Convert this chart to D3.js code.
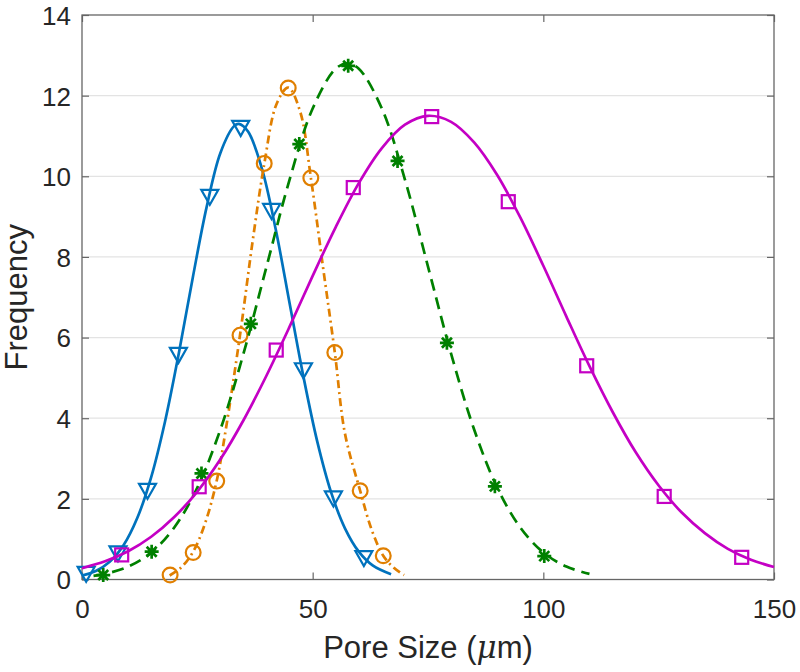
<!DOCTYPE html>
<html>
<head>
<meta charset="utf-8">
<script src="https://cdn.jsdelivr.net/npm/d3@7"></script>
<style>
  html, body { margin: 0; padding: 0; background: #fff; }
  svg { display: block; }
</style>
</head>
<body>
<svg id="chart" width="800" height="672"></svg>
<script>
// ---------- Data ----------
const xTicks = [0, 50, 100, 150];
const yTicks = [0, 2, 4, 6, 8, 10, 12, 14];
const xLabel = "Pore Size (";
const xLabelMu = "μ";
const xLabelEnd = "m)";
const yLabel = "Frequency";

// Blue (down triangles, solid)
const blueMarkX = [0.9, 7.8, 14.2, 20.9, 27.7, 34.4, 41.1, 48.0, 54.5, 61.1];
const blueMarkY = [0.14, 0.65, 2.2, 5.57, 9.49, 11.2, 9.14, 5.19, 2.01, 0.53];
const blueCurveX = [0, 3, 6, 9, 12, 15, 18, 21, 24, 27, 30, 33, 34, 36, 39, 42, 45, 48, 51, 54, 57, 60, 63, 67];
const blueCurveY = [0.1, 0.21, 0.44, 0.85, 1.53, 2.54, 3.92, 5.62, 7.48, 9.23, 10.58, 11.25, 11.3, 11.11, 10.19, 8.68, 6.85, 5.03, 3.42, 2.16, 1.27, 0.69, 0.35, 0.13];

// Orange (circles, dash-dot)
const orangeMarkX = [19.1, 24.1, 29.2, 34.25, 39.5, 44.7, 49.6, 54.8, 60.3, 65.3];
const orangeMarkY = [0.11, 0.67, 2.44, 6.06, 10.32, 12.19, 9.96, 5.63, 2.2, 0.59];
const orangeCurveX = [19, 21.5, 24.1, 26.7, 29.2, 31, 34.25, 37, 39.5, 42.2, 44.7, 47.3, 49.6, 52.3, 54.8, 57, 60.3, 62.8, 65.3, 67.5, 69.8];
const orangeCurveY = [0.1, 0.3, 0.69, 1.4, 2.45, 3.6, 6.06, 8.4, 10.3, 11.8, 12.2, 11.6, 9.97, 7.7, 5.63, 3.62, 2.2, 1.23, 0.59, 0.3, 0.11];

// Green (asterisks, dashed)
const greenMarkX = [4.6, 15.1, 25.9, 36.6, 47.1, 57.7, 68.4, 79.1, 89.5, 100.2];
const greenMarkY = [0.11, 0.69, 2.63, 6.34, 10.8, 12.74, 10.38, 5.87, 2.31, 0.58];
const greenCurveX = [2.5, 5, 10, 15, 20, 25, 30, 35, 40, 45, 50, 55, 57.5, 60, 65, 70, 75, 80, 85, 90, 95, 100, 105, 110];
const greenCurveY = [0.09, 0.14, 0.32, 0.67, 1.29, 2.28, 3.72, 5.6, 7.76, 9.92, 11.68, 12.67, 12.8, 12.67, 11.68, 9.92, 7.76, 5.6, 3.72, 2.28, 1.29, 0.67, 0.32, 0.14];

// Magenta (squares, solid)
const magentaMarkX = [8.6, 25.4, 42.1, 58.8, 75.8, 92.4, 109.4, 126.2, 143.0];
const magentaMarkY = [0.61, 2.3, 5.69, 9.72, 11.48, 9.37, 5.3, 2.06, 0.55];
const magentaCurveX = [0, 5, 10, 15, 20, 25, 30, 35, 40, 45, 50, 55, 60, 65, 70, 75, 80, 85, 90, 95, 100, 105, 110, 115, 120, 125, 130, 135, 140, 145, 150];
const magentaCurveY = [0.28, 0.45, 0.7, 1.06, 1.55, 2.18, 2.98, 3.95, 5.06, 6.27, 7.53, 8.74, 9.83, 10.7, 11.28, 11.5, 11.35, 10.84, 10.03, 8.98, 7.78, 6.52, 5.29, 4.16, 3.16, 2.33, 1.66, 1.15, 0.76, 0.49, 0.31];

// ---------- Layout ----------
const L = 82, R = 774, T = 15, B = 579.5;
const svg = d3.select("#chart");
const x = d3.scaleLinear().domain([0, 150]).range([L, R]);
const y = d3.scaleLinear().domain([0, 14]).range([B, T]);
const font = "'Liberation Sans', Arial, Helvetica, sans-serif";
const textColor = "#262626";
const axisColor = "#666666";

// Gridlines
svg.append("g").selectAll("line")
  .data(yTicks.filter(d => d > 0 && d < 14))
  .join("line")
  .attr("x1", L).attr("x2", R)
  .attr("y1", d => y(d)).attr("y2", d => y(d))
  .attr("stroke", "#e3e3e3").attr("stroke-width", 1.2);

// Axes
function styleAxis(g, showText) {
  g.select(".domain").remove();
  g.selectAll(".tick line").attr("stroke", axisColor).attr("stroke-width", 1.2);
  g.selectAll(".tick text")
    .attr("fill", textColor)
    .style("font-family", font)
    .style("font-size", "26px")
    .style("display", showText ? null : "none");
}
svg.append("g").attr("transform", `translate(0,${B})`)
  .call(d3.axisBottom(x).tickValues(xTicks).tickSize(-7).tickPadding(20).tickFormat(d3.format("d")))
  .call(g => styleAxis(g, true));
svg.append("g").attr("transform", `translate(0,${T})`)
  .call(d3.axisTop(x).tickValues(xTicks).tickSize(-7).tickFormat(""))
  .call(g => styleAxis(g, false));
svg.append("g").attr("transform", `translate(${L},0)`)
  .call(d3.axisLeft(y).tickValues(yTicks).tickSize(-7).tickPadding(11).tickFormat(d3.format("d")))
  .call(g => styleAxis(g, true))
  .call(g => g.selectAll(".tick text").attr("dy", "0.36em"));
svg.append("g").attr("transform", `translate(${R},0)`)
  .call(d3.axisRight(y).tickValues(yTicks).tickSize(-7).tickFormat(""))
  .call(g => styleAxis(g, false));

// Box
svg.append("rect")
  .attr("x", L).attr("y", T).attr("width", R - L).attr("height", B - T)
  .attr("fill", "none").attr("stroke", axisColor).attr("stroke-width", 1.3);

// Axis labels
const xl = svg.append("text")
  .attr("x", (L + R) / 2).attr("y", 658)
  .attr("text-anchor", "middle")
  .attr("fill", textColor)
  .style("font-family", font).style("font-size", "31px");
xl.append("tspan").text(xLabel);
xl.append("tspan").style("font-style", "italic").style("font-family", "'DejaVu Serif', serif").text(xLabelMu);
xl.append("tspan").text(xLabelEnd);

svg.append("text")
  .attr("transform", `translate(27,${(T + B) / 2}) rotate(-90)`)
  .attr("text-anchor", "middle")
  .attr("fill", textColor)
  .style("font-family", font).style("font-size", "31px")
  .text(yLabel);

// ---------- Series ----------
const line = d3.line().x(d => x(d[0])).y(d => y(d[1])).curve(d3.curveCatmullRom.alpha(0.5));
const plotG = svg.append("g");

function drawSeries(cx, cy, mx, my, color, dash, marker) {
  plotG.append("path")
    .datum(d3.zip(cx, cy))
    .attr("d", line)
    .attr("fill", "none")
    .attr("stroke", color)
    .attr("stroke-width", 2.7)
    .attr("stroke-dasharray", dash);
  const g = plotG.append("g");
  const pts = d3.zip(mx, my);
  pts.forEach(p => {
    const px = x(p[0]), py = y(p[1]);
    if (marker === "tri") {
      g.append("path")
        .attr("d", `M${px - 8.5},${py - 7}L${px + 8.5},${py - 7}L${px},${py + 8}Z`)
        .attr("fill", "none").attr("stroke", color).attr("stroke-width", 2.2);
    } else if (marker === "circle") {
      g.append("circle").attr("cx", px).attr("cy", py).attr("r", 7.4)
        .attr("fill", "none").attr("stroke", color).attr("stroke-width", 2.2);
    } else if (marker === "square") {
      g.append("rect").attr("x", px - 6.5).attr("y", py - 6.5).attr("width", 13).attr("height", 13)
        .attr("fill", "none").attr("stroke", color).attr("stroke-width", 2.2);
    } else if (marker === "star") {
      const r = 7, rd = 5;
      g.append("path")
        .attr("d", `M${px - r},${py}L${px + r},${py}M${px},${py - r}L${px},${py + r}` +
                   `M${px - rd},${py - rd}L${px + rd},${py + rd}M${px - rd},${py + rd}L${px + rd},${py - rd}`)
        .attr("stroke", color).attr("stroke-width", 2.7).attr("fill", "none");
    }
  });
}

drawSeries(blueCurveX, blueCurveY, blueMarkX, blueMarkY, "#0072BD", null, "tri");
drawSeries(orangeCurveX, orangeCurveY, orangeMarkX, orangeMarkY, "#E07F00", "8,4,2,4", "circle");
drawSeries(greenCurveX, greenCurveY, greenMarkX, greenMarkY, "#008000", "12,7", "star");
drawSeries(magentaCurveX, magentaCurveY, magentaMarkX, magentaMarkY, "#C400C4", null, "square");
</script>
</body>
</html>
